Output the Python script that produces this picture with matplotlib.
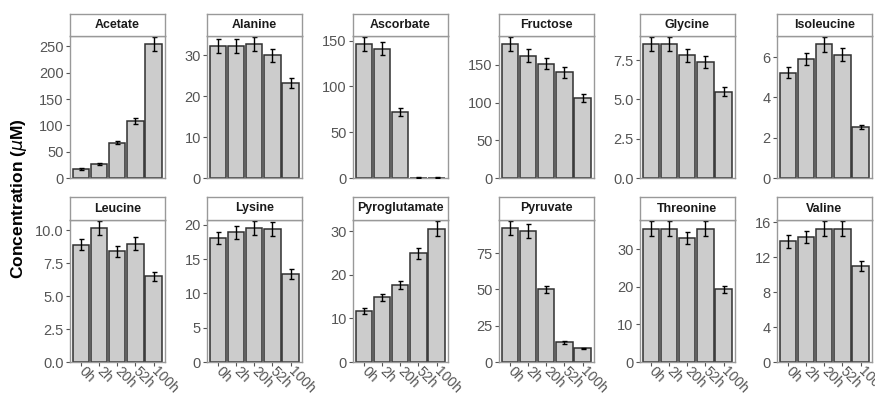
import matplotlib
matplotlib.use("Agg")
import matplotlib.pyplot as plt
import numpy as np

plt.rcParams['font.family'] = ['Liberation Sans', 'DejaVu Sans']

times = ["0h", "2h", "20h", "52h", "100h"]

metabolites = ["Acetate", "Alanine", "Ascorbate", "Fructose", "Glycine", "Isoleucine",
               "Leucine", "Lysine", "Pyroglutamate", "Pyruvate", "Threonine", "Valine"]

acetate = [17, 26, 67, 108, 254]
acetate_err = [2, 2, 3, 6, 13]
alanine = [32.4, 32.4, 32.7, 30.0, 23.3]
alanine_err = [1.7, 1.7, 1.7, 1.6, 1.2]
ascorbate = [146, 141, 72, 0.4, 0.4]
ascorbate_err = [7.5, 7, 4, 0.2, 0.2]
fructose = [177.4, 162.4, 151.4, 139.9, 105.5]
fructose_err = [9, 8.4, 7.5, 7, 5.3]
glycine = [8.5, 8.5, 7.8, 7.4, 5.5]
glycine_err = [0.44, 0.44, 0.4, 0.38, 0.28]
isoleucine = [5.22, 5.92, 6.63, 6.12, 2.53]
isoleucine_err = [0.28, 0.31, 0.35, 0.31, 0.11]
leucine = [8.9, 10.15, 8.4, 9.0, 6.5]
leucine_err = [0.43, 0.53, 0.43, 0.46, 0.35]
lysine = [18.1, 18.9, 19.5, 19.4, 12.8]
lysine_err = [0.9, 1.0, 1.0, 1.0, 0.7]
pyroglutamate = [11.7, 14.8, 17.6, 24.9, 30.5]
pyroglutamate_err = [0.7, 0.8, 0.9, 1.3, 1.7]
pyruvate = [92, 90, 50, 13.5, 9.4]
pyruvate_err = [4.8, 4.7, 2.5, 0.9, 0.5]
threonine = [35.5, 35.5, 33.0, 35.5, 19.3]
threonine_err = [1.9, 1.9, 1.7, 1.9, 0.9]
valine = [13.85, 14.3, 15.27, 15.27, 11.0]
valine_err = [0.75, 0.7, 0.85, 0.85, 0.6]

values = [acetate, alanine, ascorbate, fructose, glycine, isoleucine,
          leucine, lysine, pyroglutamate, pyruvate, threonine, valine]
errors = [acetate_err, alanine_err, ascorbate_err, fructose_err, glycine_err, isoleucine_err,
          leucine_err, lysine_err, pyroglutamate_err, pyruvate_err, threonine_err, valine_err]

yticks = [
    [0, 50, 100, 150, 200, 250],
    [0, 10, 20, 30],
    [0, 50, 100, 150],
    [0, 50, 100, 150],
    [0.0, 2.5, 5.0, 7.5],
    [0, 2, 4, 6],
    [0.0, 2.5, 5.0, 7.5, 10.0],
    [0, 5, 10, 15, 20],
    [0, 10, 20, 30],
    [0, 25, 50, 75],
    [0, 10, 20, 30],
    [0, 4, 8, 12, 16],
]
ytick_labels = [
    ["0", "50", "100", "150", "200", "250"],
    ["0", "10", "20", "30"],
    ["0", "50", "100", "150"],
    ["0", "50", "100", "150"],
    ["0.0", "2.5", "5.0", "7.5"],
    ["0", "2", "4", "6"],
    ["0.0", "2.5", "5.0", "7.5", "10.0"],
    ["0", "5", "10", "15", "20"],
    ["0", "10", "20", "30"],
    ["0", "25", "50", "75"],
    ["0", "10", "20", "30"],
    ["0", "4", "8", "12", "16"],
]

W, H = 875, 396
fig = plt.figure(figsize=(W / 100, H / 100), dpi=100)

col_left = [70, 207, 353, 499, 640, 777]
panel_w = 94.5
row_strip_top = [14, 197]
row_panel_top = [36, 220]
row_panel_bot = [178, 362]

border_col = "#999999"
tick_col = "#555555"

for i, name in enumerate(metabolites):
    r, c = divmod(i, 6)
    x0 = col_left[c]
    pt, pb = row_panel_top[r], row_panel_bot[r]
    ax = fig.add_axes([x0 / W, (H - pb) / H, panel_w / W, (pb - pt) / H])
    st = row_strip_top[r]
    sax = fig.add_axes([x0 / W, (H - pt) / H, panel_w / W, (pt - st) / H])

    v = np.array(values[i])
    e = np.array(errors[i])
    x = np.arange(1, len(times) + 1)
    ax.bar(x, v, width=0.9, color="#cccccc", edgecolor="#303030", linewidth=1.1, zorder=2)
    ax.errorbar(x, v, yerr=e, fmt="none", ecolor="black", elinewidth=1.0,
                capsize=1.8, capthick=1.0, zorder=3)
    ax.set_xlim(0.4, 5.6)
    ax.set_ylim(0, float(np.max(v + e)) * 1.01)
    ax.set_yticks(yticks[i])
    ax.set_yticklabels(ytick_labels[i])
    ax.set_xticks(x)
    if r == 1:
        ax.set_xticklabels(times, rotation=-45, ha="left", va="center",
                           rotation_mode="anchor", color=tick_col, fontsize=10)
    else:
        ax.set_xticklabels([])
        ax.tick_params(axis="x", length=0)
    ax.tick_params(axis="y", labelsize=10.5, labelcolor=tick_col, color=tick_col,
                   length=3, width=0.8, pad=1.5)
    if r == 1:
        ax.tick_params(axis="x", color=tick_col, length=3, width=0.8, pad=2.5)
    for s in ax.spines.values():
        s.set_color(border_col)
        s.set_linewidth(1.0)

    sax.set_xticks([])
    sax.set_yticks([])
    sax.set_facecolor("white")
    for s in sax.spines.values():
        s.set_color(border_col)
        s.set_linewidth(1.0)
    sax.text(0.5, 0.5, name, ha="center", va="center", fontsize=8.9,
             fontweight="bold", color="#1a1a1a", transform=sax.transAxes)

fig.text(19 / W, (H - 199) / H, r"Concentration ($\mu$M)", rotation=90,
         ha="center", va="center", fontsize=12.5, fontweight="bold", color="black")

fig.savefig("out.png", dpi=100)
